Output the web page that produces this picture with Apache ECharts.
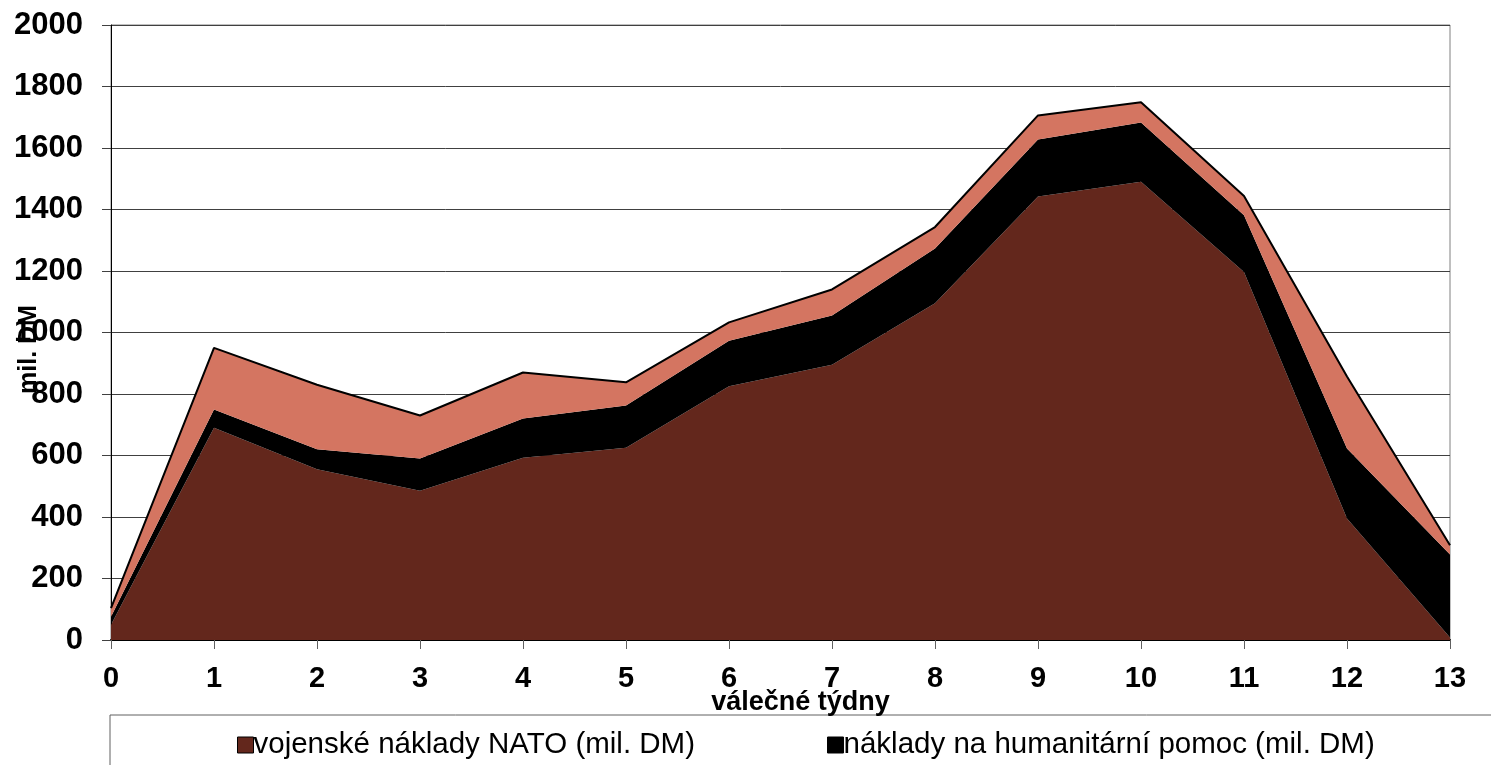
<!DOCTYPE html>
<html>
<head>
<meta charset="utf-8">
<script src="https://cdn.jsdelivr.net/npm/echarts@6/dist/echarts.min.js"></script>
<style>
  html, body { margin: 0; padding: 0; background: #fff; }
  #main { width: 1491px; height: 765px; }
</style>
</head>
<body>
<div id="main"></div>
<script>
var weeks = ['0', '1', '2', '3', '4', '5', '6', '7', '8', '9', '10', '11', '12', '13'];
var military = [50, 690, 555, 485, 593, 625, 825, 895, 1095, 1442, 1490, 1197, 395, 8];
var humanitarian = [26, 60, 65, 105, 127, 138, 148, 160, 178, 186, 193, 184, 228, 270];
var other = [28, 200, 210, 140, 150, 75, 60, 85, 70, 78, 66, 63, 234, 30];

var font = '"Liberation Sans", Arial, sans-serif';

echarts.init(document.getElementById('main')).setOption({
    animation: false,
    textStyle: { fontFamily: font },
    grid: {
        left: 111, right: 41, top: 25, bottom: 125,
        outerBoundsMode: 'none',
        containLabel: false,
        show: true, borderColor: '#808080', borderWidth: 1
    },
    legend: {
        data: ['vojenské náklady NATO (mil. DM)', 'náklady na humanitární pomoc (mil. DM)'],
        left: 232, top: 725,
        icon: 'rect', itemWidth: 16, itemHeight: 16, itemGap: 132,
        itemStyle: { borderColor: '#000', borderWidth: 1 },
        textStyle: { fontSize: 29.5, color: '#000', fontFamily: font, padding: [0, 0, 0, -5] }
    },
    graphic: [{
        type: 'rect',
        shape: { x: 110, y: 715, width: 1400, height: 80 },
        style: { fill: 'none', stroke: '#606060', lineWidth: 1 },
        silent: true
    }],
    xAxis: {
        type: 'category',
        data: weeks,
        boundaryGap: false,
        name: 'válečné týdny',
        nameLocation: 'middle',
        nameGap: 49,
        nameMoveOverlap: false,
        nameTextStyle: { fontSize: 27, fontWeight: 'bold', color: '#000', padding: [0, 0, 0, 40] },
        axisLine: { lineStyle: { color: '#000', width: 2 } },
        axisTick: { length: 9, lineStyle: { color: '#606060' } },
        axisLabel: { fontSize: 29, fontWeight: 'bold', color: '#000', margin: 24 },
        splitLine: { show: false }
    },
    yAxis: {
        type: 'value',
        min: 0, max: 2000, interval: 200,
        name: 'mil. DM',
        nameLocation: 'middle',
        nameGap: 69,
        nameMoveOverlap: false,
        nameTextStyle: { fontSize: 25, fontWeight: 'bold', color: '#000', padding: [0, 34, 0, 0] },
        axisLine: { show: true, lineStyle: { color: '#000', width: 1 } },
        axisTick: { show: true, length: 9, lineStyle: { color: '#404040' } },
        axisLabel: {
            fontSize: 31, fontWeight: 'bold', color: '#000', margin: 28,
            formatter: function (v) { return String(v); }
        },
        splitLine: { lineStyle: { color: '#404040', width: 1 } }
    },
    series: [{
        name: 'vojenské náklady NATO (mil. DM)',
        type: 'line',
        stack: 'total',
        data: military,
        showSymbol: false,
        itemStyle: { color: '#63271c' },
        lineStyle: { width: 0 },
        areaStyle: { color: '#63271c', opacity: 1 }
    }, {
        name: 'náklady na humanitární pomoc (mil. DM)',
        type: 'line',
        stack: 'total',
        data: humanitarian,
        showSymbol: false,
        itemStyle: { color: '#000' },
        lineStyle: { width: 0 },
        areaStyle: { color: '#000', opacity: 1 }
    }, {
        name: 'ostatní náklady (mil. DM)',
        type: 'line',
        stack: 'total',
        data: other,
        showSymbol: false,
        itemStyle: { color: '#d47561' },
        lineStyle: { color: '#000', width: 2 },
        areaStyle: { color: '#d47561', opacity: 1 }
    }]
});
</script>
</body>
</html>
